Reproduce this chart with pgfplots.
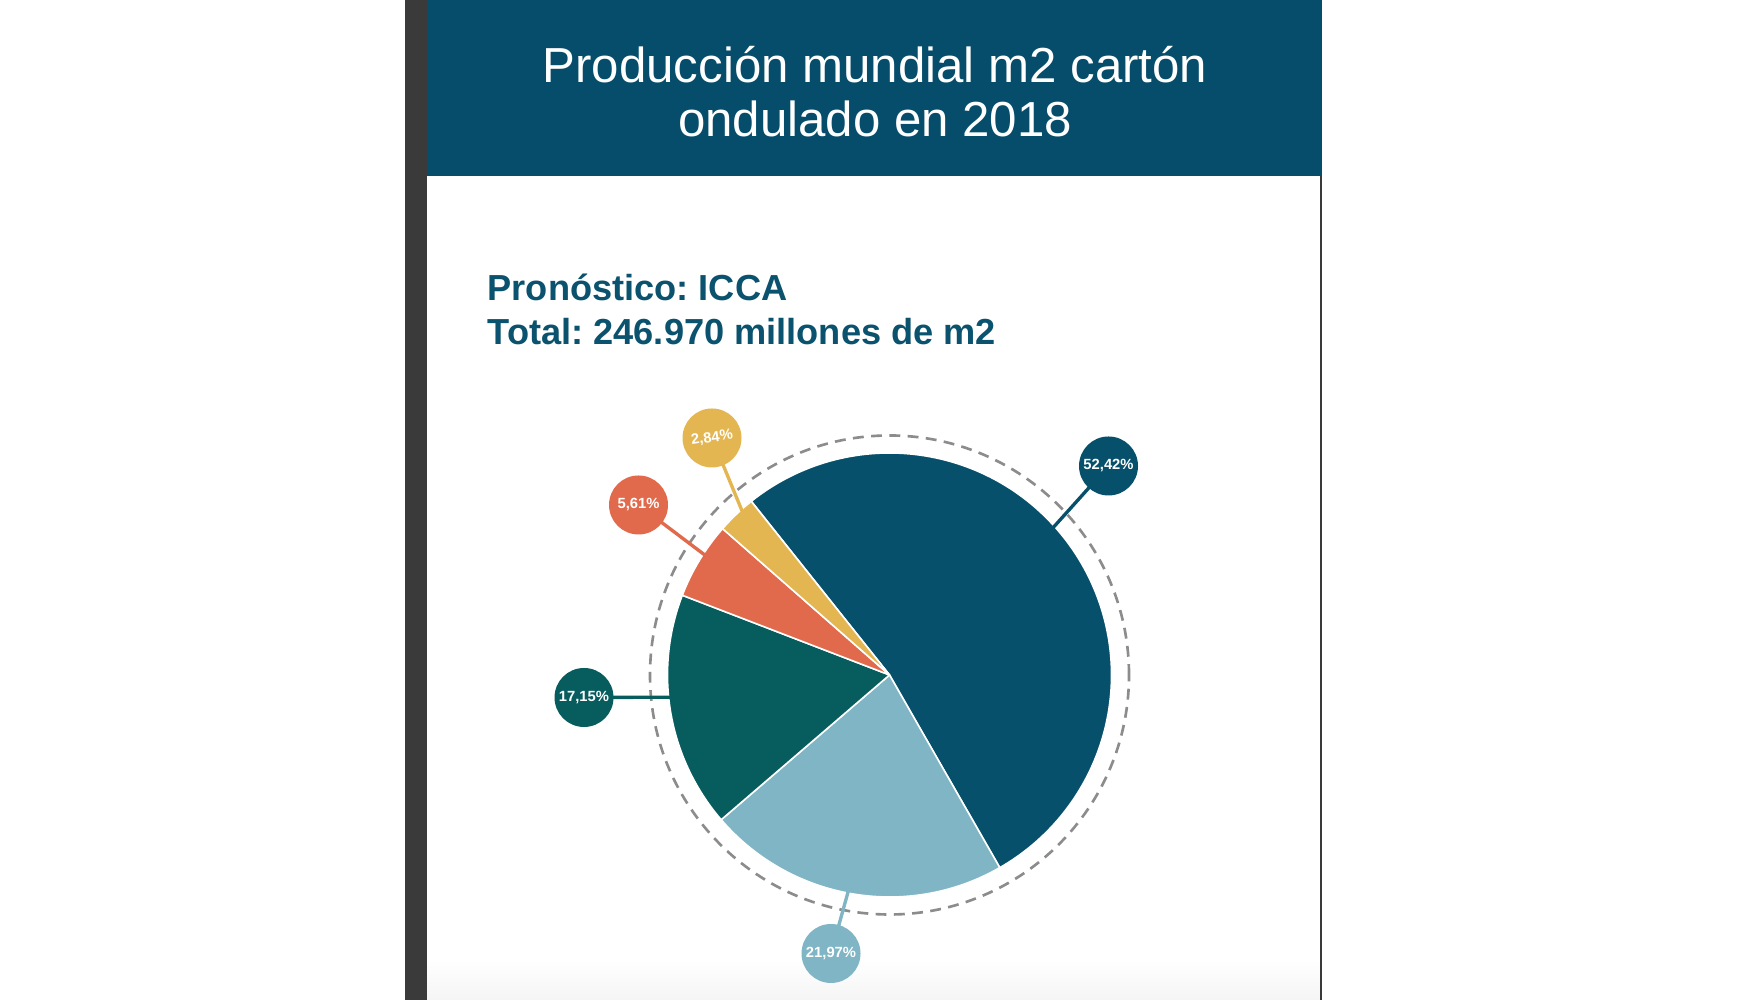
\documentclass[border=0pt]{standalone}
\usepackage{pgfplots}
\pgfplotsset{compat=1.18}
\usepackage{fontspec}
\setmainfont{Liberation Sans}
\frenchspacing
\definecolor{cHeader}{RGB}{5,77,106}
\definecolor{cSub}{RGB}{10,82,110}
\definecolor{cBlue}{RGB}{7,80,107}
\definecolor{cLight}{RGB}{127,181,196}
\definecolor{cGreen}{RGB}{7,92,94}
\definecolor{cOrange}{RGB}{225,106,76}
\definecolor{cYellow}{RGB}{228,182,82}
\definecolor{cDash}{RGB}{140,140,140}
\definecolor{cBar}{RGB}{58,58,58}
% start angle (deg), share (%), colour
\newcommand{\pieslice}[3]{%
  \fill[#3, draw=white, line width=0.45pt, line join=round]
    (axis cs:8.895,3.25) -- ++({#1}:2.22)
    arc[start angle={#1}, end angle={#1-3.6*#2}, radius=2.22] -- cycle;}
% angle of connector, bubble x, bubble y, colour, label, rotation
\newcommand{\bubble}[6]{%
  \draw[#4, line width=0.95pt] (axis cs:8.895,3.25) ++({#1}:2.20) -- (axis cs:#2,#3);
  \fill[#4] (axis cs:#2,#3) circle[radius=0.295];
  \node[text=white, inner sep=0pt, rotate=#6, font=\bfseries\fontsize{4.2}{5}\selectfont] at (axis cs:#2,#3) {#5};}
\begin{document}
\begin{tikzpicture}
\begin{axis}[
  x=1cm, y=1cm, disabledatascaling, scale only axis,
  xmin=0, xmax=17.5, ymin=0, ymax=10,
  hide axis]
% page background and frame
\fill[white] (axis cs:0,0) rectangle (axis cs:17.5,10);
\shade[top color=white, bottom color=black!4] (axis cs:4.27,0) rectangle (axis cs:13.21,0.4);
\fill[cBar] (axis cs:4.05,0) rectangle (axis cs:4.27,10);
\fill[cBar] (axis cs:13.20,0) rectangle (axis cs:13.22,10);
\fill[cHeader] (axis cs:4.27,8.24) rectangle (axis cs:13.21,10);
% title
\node[anchor=base, inner sep=0pt, text=white, font=\fontsize{14}{17}\selectfont] at (axis cs:8.75,9.17) {Producción mundial m2 cartón};
\node[anchor=base, inner sep=0pt, text=white, font=\fontsize{14}{17}\selectfont] at (axis cs:8.75,8.63) {ondulado en 2018};
% subtitle
\node[anchor=base west, inner sep=0pt, text=cSub, font=\bfseries\fontsize{10.3}{12}\selectfont] at (axis cs:4.87,6.995) {Pronóstico: ICCA};
\node[anchor=base west, inner sep=0pt, text=cSub, font=\bfseries\fontsize{10.3}{12}\selectfont] at (axis cs:4.87,6.555) {Total: 246.970 millones de m2};
% pie slices (percent shares, clockwise)
\pieslice{128.5}{52.42}{cBlue}
\pieslice{128.5-3.6*52.42}{21.97}{cLight}
\pieslice{128.5-3.6*(52.42+21.97)}{17.15}{cGreen}
\pieslice{128.5-3.6*(52.42+21.97+17.15)}{5.61}{cOrange}
\pieslice{128.5-3.6*(52.42+21.97+17.15+5.61)}{2.84}{cYellow}
% dashed ring
\draw[cDash, line width=0.75pt, dash pattern=on 3.1pt off 2.1pt] (axis cs:8.895,3.25) circle[radius=2.395];
% labels
\bubble{42}{11.085}{5.34}{cBlue}{52,42\%}{0}
\bubble{-100.8}{8.31}{0.465}{cLight}{21,97\%}{0}
\bubble{185.8}{5.84}{3.025}{cGreen}{17,15\%}{0}
\bubble{147}{6.385}{4.95}{cOrange}{5,61\%}{0}
\bubble{132}{7.12}{5.62}{cYellow}{2,84\%}{8}
\end{axis}
\end{tikzpicture}
\end{document}
